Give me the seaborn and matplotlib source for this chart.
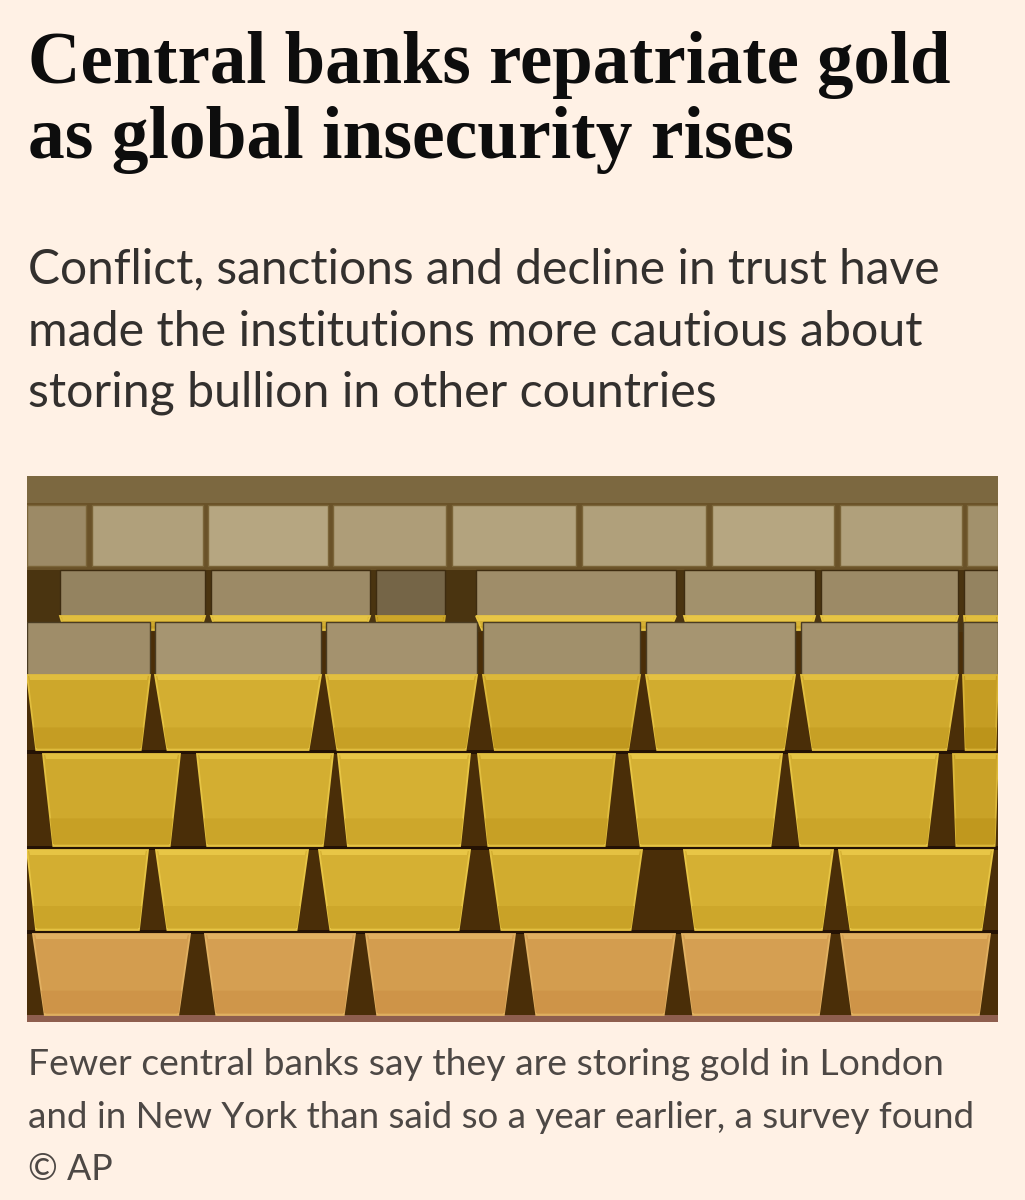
import matplotlib
matplotlib.use("Agg")
import matplotlib.pyplot as plt
import seaborn as sns
import numpy as np

# ---------------- text content ----------------
title_lines = ["Central banks repatriate gold", "as global insecurity rises"]
subtitle_lines = ["Conflict, sanctions and decline in trust have",
                  "made the institutions more cautious about",
                  "storing bullion in other countries"]
caption_lines = ["Fewer central banks say they are storing gold in London",
                 "and in New York than said so a year earlier, a survey found",
                 "\u00a9 AP"]

# ---------------- photo "data": brightness of each gold bar, per tier ----------------
back_a_tones = [0.50, 0.66, 0.70, 0.64, 0.68, 0.66, 0.70, 0.66, 0.55]
back_b_tones = [0.45, 0.50, 0.25, 0.52, 0.55, 0.50, 0.45]
tier1_top_tones = [0.52, 0.58, 0.56, 0.54, 0.58, 0.56, 0.48]
tier1_front_tones = [0.74, 0.80, 0.76, 0.70, 0.78, 0.76, 0.66]
tier2_tones = [0.76, 0.80, 0.82, 0.76, 0.82, 0.80, 0.70]
tier3_tones = [0.80, 0.84, 0.82, 0.78, 0.82, 0.82]
bottom_tones = [0.66, 0.68, 0.66, 0.66, 0.68, 0.66]

# ---------------- layout (pixels in the 1025x1200 page) ----------------
W, H = 1025, 1200
PAPER = "#FFF1E5"

back_a_x = [(27, 86), (92, 203), (208, 328), (333, 446), (452, 576), (582, 706), (712, 834), (840, 962), (967, 998)]
back_b_x = [(60, 205), (211, 370), (376, 445), (476, 676), (684, 815), (821, 958), (964, 998)]
tier1_x = [(27, 150), (155, 321), (326, 477), (483, 640), (646, 795), (801, 958), (963, 998)]
tier2_x = [(43, 180), (197, 333), (338, 470), (478, 615), (629, 782), (789, 938), (953, 998)]
tier3_x = [(27, 148), (156, 308), (319, 470), (490, 642), (684, 833), (839, 993)]
bottom_x = [(33, 190), (205, 355), (366, 515), (525, 675), (682, 830), (841, 990)]

sns.set_theme(style="white", rc={"figure.facecolor": PAPER, "axes.facecolor": PAPER})

gold = sns.blend_palette(["#4a3004", "#b48a12", "#e8c646"], as_cmap=True)
silver = sns.blend_palette(["#4e4028", "#9c8a66", "#dccfa8"], as_cmap=True)
copper = sns.blend_palette(["#6a3814", "#c88c40", "#ecc070"], as_cmap=True)

fig = plt.figure(figsize=(W / 100, H / 100), dpi=100)
fig.patch.set_facecolor(PAPER)

# ---------------- photo panel ----------------
ax = fig.add_axes([27 / W, 1 - 1022 / H, 971 / W, 546 / H])
ax.set_xlim(27, 998)
ax.set_ylim(1022, 476)
ax.axis("off")

bands = [(476, 503, "#7c6840"), (503, 570, "#6a5228"), (570, 632, "#4a3410"),
         (632, 1015, "#4a2e08"), (1015, 1022, "#8e5e4e")]
for top, bot, c in bands:
    ax.bar(27, bot - top, bottom=top, width=971, align="edge", color=c, linewidth=0)

# dark shadow seams between stacked layers
for seam in (750, 846, 930):
    ax.bar(27, 4, bottom=seam, width=971, align="edge", color="#241204", linewidth=0)


def draw_flat(xs, tones, cmap, top, bot, edge):
    """Top faces (seen from above): simple slabs."""
    for (l, r), t in zip(xs, tones):
        ax.bar(l, bot - top, bottom=top, width=r - l, align="edge",
               color=cmap(t), edgecolor=edge, linewidth=1.0)


def draw_front(xs, tones, cmap, top, bot, taper=0.075, edge_boost=0.18):
    """Front faces of the bars: trapezoids narrowing downwards."""
    for (l, r), t in zip(xs, tones):
        w = r - l
        d = w * taper
        ax.fill([l, r, r - d, l + d], [top, top, bot, bot],
                color=cmap(t), edgecolor=cmap(min(1.0, t + edge_boost)), linewidth=1.3)
        ax.fill([l + 2, r - 2, r - 2 - d * 0.1, l + 2 + d * 0.1],
                [top, top, top + 5, top + 5], color=cmap(min(1.0, t + edge_boost)), linewidth=0)
        ax.fill([l + d * 0.7, r - d * 0.7, r - d * 0.95, l + d * 0.95],
                [top + (bot - top) * 0.7, top + (bot - top) * 0.7, bot - 2, bot - 2],
                color=cmap(max(0.0, t - 0.08)), linewidth=0)


# far blurry row
draw_flat(back_a_x, back_a_tones, silver, 505, 566, edge="#7a6438")
# second back row: top face + gold front lip
draw_flat(back_b_x, back_b_tones, silver, 570, 616, edge="#3e2c10")
draw_front(back_b_x, [t + 0.3 for t in back_b_tones], gold, 616, 630, taper=0.03)
# front stack, top layer: top face + front face
draw_flat(tier1_x, tier1_top_tones, silver, 622, 675, edge="#4a3c22")
draw_front(tier1_x, tier1_front_tones, gold, 675, 750)
# lower layers
draw_front(tier2_x, tier2_tones, gold, 754, 846)
draw_front(tier3_x, tier3_tones, gold, 850, 930)
draw_front(bottom_x, bottom_tones, copper, 934, 1015)

# ---------------- text ----------------
renderer = fig.canvas.get_renderer()
LEFT = 28


def fit_text(s, baseline, right, color, family, weight="normal"):
    t = fig.text(LEFT / W, 1 - baseline / H, s, ha="left", va="baseline",
                 fontsize=40, color=color, family=family, fontweight=weight)
    w = t.get_window_extent(renderer).width
    t.set_fontsize(40 * (right - LEFT) / w)
    return t


fit_text(title_lines[0], 83, 950, "#0d0d0d", ["Liberation Serif", "DejaVu Serif"], "bold")
fit_text(title_lines[1], 158, 793, "#0d0d0d", ["Liberation Serif", "DejaVu Serif"], "bold")

sub_rights = [940, 922, 716]
sub_base = [283, 346, 407]
for s, b, r in zip(subtitle_lines, sub_base, sub_rights):
    fit_text(s, b, r, "#33302e", ["Lato", "DejaVu Sans"])

cap_rights = [942, 973, 113]
cap_base = [1075, 1128, 1180]
for s, b, r in zip(caption_lines, cap_base, cap_rights):
    fit_text(s, b, r, "#4d4845", ["Lato", "DejaVu Sans"])

fig.savefig("out.png", dpi=100, facecolor=PAPER)
